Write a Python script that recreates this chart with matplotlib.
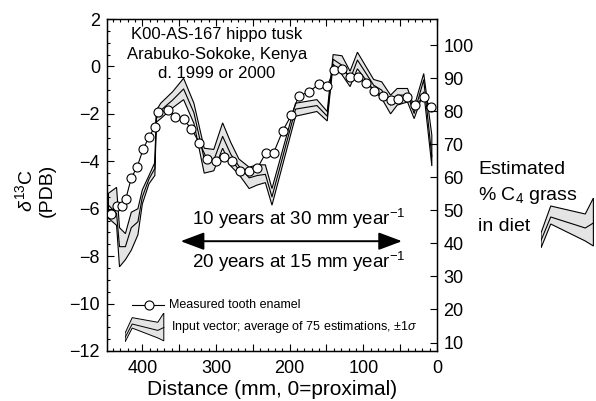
import numpy as np
import matplotlib
matplotlib.use('Agg')
import matplotlib.pyplot as plt
from matplotlib.ticker import MultipleLocator, FuncFormatter

plt.rcParams['font.family'] = ['Liberation Sans', 'DejaVu Sans']
plt.rcParams['mathtext.fontset'] = 'custom'
plt.rcParams['mathtext.rm'] = 'Liberation Sans'
plt.rcParams['mathtext.it'] = 'Liberation Sans:italic'
plt.rcParams['mathtext.bf'] = 'Liberation Sans:bold'

# measured tooth enamel (distance mm, d13C)
enamel_dist = [443, 435, 428, 422.6, 415, 407, 399, 391, 383, 379, 364.5, 355,
               344, 333.6, 322.5, 312, 300, 289.4, 278, 267.7, 255.5, 244,
               232.8, 221.6, 209.4, 197.6, 187.7, 174, 160.6, 149, 140, 128.8,
               117.6, 107, 96, 85, 73, 63, 53, 41, 30.4, 18.2, 8.1]
enamel_d13c = [-6.23, -5.88, -5.88, -5.61, -4.70, -4.23, -3.50, -2.97, -2.55,
               -1.94, -1.84, -2.12, -2.23, -2.63, -3.22, -3.92, -4.00, -3.81,
               -3.99, -4.40, -4.40, -4.30, -3.67, -3.63, -2.71, -2.05, -1.25,
               -1.07, -0.76, -0.83, -0.15, -0.12, -0.43, -0.46, -0.69, -1.03,
               -1.25, -1.42, -1.38, -1.31, -1.64, -1.31, -1.73]

# input vector: average of 75 estimations, +/- 1 sigma
vec_dist = [446, 435, 431, 423, 415, 406, 400, 391, 383, 381, 375, 359, 344,
            330, 316, 303, 291, 280, 269, 255, 244, 233, 224, 192, 163, 149,
            141, 129, 118, 108, 86, 75, 63, 54, 40, 31, 18, 7]
vec_lo = [-6.4, -6.7, -8.45, -8.15, -7.75, -7.1, -5.8, -4.95, -4.6, -2.35,
          -2.2, -1.75, -1.4, -2.4, -4.5, -4.4, -3.45, -4.2, -4.55, -5.15,
          -5.0, -4.9, -5.85, -2.1, -1.9, -2.3, 0.1, -0.35, -0.85, -0.1,
          -1.0, -1.35, -2.0, -1.63, -1.5, -2.2, -1.07, -4.2]
vec_mid = [-5.85, -6.2, -7.6, -7.6, -6.8, -6.55, -5.5, -4.75, -4.3, -2.1,
           -1.85, -1.42, -0.95, -1.95, -3.9, -3.95, -2.95, -3.7, -4.2, -4.7,
           -4.6, -4.55, -5.5, -1.8, -1.65, -2.1, 0.3, 0.05, -0.55, 0.27,
           -0.79, -1.0, -1.63, -1.21, -1.21, -1.98, -0.57, -3.8]
vec_hi = [-5.35, -5.1, -6.8, -7.05, -6.15, -6.0, -5.2, -4.6, -4.05, -1.85,
          -1.55, -1.07, -0.5, -1.55, -3.45, -3.5, -2.38, -3.2, -3.9, -4.25,
          -4.15, -4.15, -5.15, -1.55, -1.4, -1.9, 0.5, 0.45, -0.2, 0.6,
          -0.55, -0.65, -1.21, -0.93, -0.93, -1.7, -0.3, -2.9]

pct_ticks = [10, 20, 30, 40, 50, 60, 70, 80, 90, 100]
d13c_ticks = [2, 0, -2, -4, -6, -8, -10, -12]

# legend glyph for the band (normalised shape)
icon_x = [0.0, 0.18, 0.82, 0.97]
icon_hi = [0.30, 0.84, 0.68, 1.0]
icon_mid = [0.15, 0.62, 0.40, 0.50]
icon_lo = [0.0, 0.48, 0.14, 0.04]

band_grey = '#e4e4e4'


def draw_band(a, x, lo, mid, hi, lw=0.8):
    px = list(x) + list(x)[::-1]
    py = list(hi) + list(lo)[::-1]
    a.fill(px, py, facecolor=band_grey, edgecolor='black', lw=lw)
    a.plot(x, mid, color='black', lw=lw)


fig = plt.figure(figsize=(5.96, 4.01), dpi=100)
ax = fig.add_axes([0.1795, 0.1247, 0.5537, 0.8279])

draw_band(ax, vec_dist, vec_lo, vec_mid, vec_hi)
ax.plot(enamel_dist, enamel_d13c, '-o', color='black', lw=0.8, ms=6.5,
        mfc='white', mec='black', mew=0.8, zorder=4)

ax.set_xlim(448, 0)
ax.set_ylim(-12, 2)
ax.set_yticks(d13c_ticks)
ax.xaxis.set_major_locator(MultipleLocator(50))
ax.xaxis.set_minor_locator(MultipleLocator(10))
ax.xaxis.set_major_formatter(FuncFormatter(lambda v, p: f'{int(v)}' if v % 100 == 0 else ''))
ax.yaxis.set_minor_locator(MultipleLocator(0.5))
ax.tick_params(which='both', direction='in', top=True, right=False, labelsize=13)
ax.tick_params(which='major', length=5, width=0.8)
ax.tick_params(which='minor', length=2.5, width=0.8)
ax.tick_params(axis='y', pad=5)
ax.tick_params(axis='x', pad=6.5)
for s in ax.spines.values():
    s.set_linewidth(1.0)
ax.set_xlabel('Distance (mm, 0=proximal)', fontsize=15, labelpad=2)

ax2 = ax.twinx()
ax2.set_ylim(7.44, 107.9)
ax2.set_yticks(pct_ticks)
ax2.tick_params(direction='in', length=5, width=0.8, labelsize=13, pad=4.5)

fig.text(35 / 596, 1 - 190 / 401, '$\\delta^{13}$C\n(PDB)', rotation=90,
         ha='center', va='center', fontsize=14, multialignment='center')

# specimen label
spec_lines = ['K00-AS-167 hippo tusk', 'Arabuko-Sokoke, Kenya', 'd. 1999 or 2000']
for line, yy in zip(spec_lines, [1.14, 0.30, -0.50]):
    ax.text(299, yy, line, ha='center', va='baseline', fontsize=12)

# time-span arrow
ax.annotate('', xy=(47.5, -7.37), xytext=(348, -7.37),
            arrowprops=dict(arrowstyle='<|-|>,head_length=1.2,head_width=0.45',
                            mutation_scale=12, color='black', lw=1.4,
                            shrinkA=0, shrinkB=0))
ax.text(188, -6.70, '10 years at 30 mm year$^{-1}$', ha='center', va='baseline', fontsize=13.5)
ax.text(188, -8.52, '20 years at 15 mm year$^{-1}$', ha='center', va='baseline', fontsize=13.5)

# legend
ax.plot([413.6, 370.7], [-10.04, -10.04], color='black', lw=0.8)
ax.plot([391], [-10.04], 'o', ms=6.5, mfc='white', mec='black', mew=0.8)
ax.text(364, -10.04, 'Measured tooth enamel', ha='left', va='center', fontsize=9)
ax.text(361.6, -10.97, 'Input vector; average of 75 estimations, $\\pm$1$\\sigma$',
        ha='left', va='center', fontsize=9)

icon1 = fig.add_axes([125 / 596, 1 - 342 / 401, 40 / 596, 29 / 401])
draw_band(icon1, icon_x, icon_lo, icon_mid, icon_hi, lw=0.7)
icon1.set_xlim(0, 1)
icon1.set_ylim(0, 1)
icon1.axis('off')

# right-hand label
fig.text(478 / 596, 1 - 174 / 401, 'Estimated', ha='left', va='baseline', fontsize=14)
fig.text(478 / 596, 1 - 199.5 / 401, '% C$_4$ grass', ha='left', va='baseline', fontsize=14)
fig.text(478 / 596, 1 - 231.5 / 401, 'in diet', ha='left', va='baseline', fontsize=14)

icon2 = fig.add_axes([541 / 596, 1 - 248 / 401, 54 / 596, 50 / 401])
draw_band(icon2, icon_x, icon_lo, icon_mid, icon_hi, lw=0.8)
icon2.set_xlim(0, 1)
icon2.set_ylim(0, 1)
icon2.axis('off')

fig.savefig('out.png', dpi=100)
